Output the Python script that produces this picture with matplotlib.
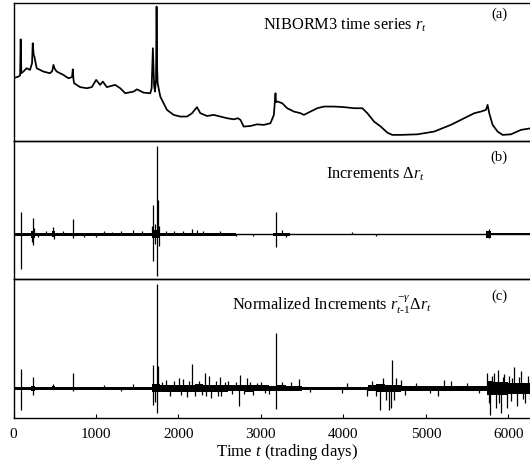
import matplotlib
matplotlib.use('Agg')
import matplotlib.pyplot as plt
import numpy as np

plt.rcParams['font.family'] = ['Liberation Serif', 'DejaVu Serif']
plt.rcParams['mathtext.fontset'] = 'custom'
plt.rcParams['mathtext.rm'] = 'Liberation Serif'
plt.rcParams['mathtext.it'] = 'Liberation Serif:italic'
plt.rcParams['mathtext.fallback'] = 'stix'

# ---------------- data ----------------
# (a) NIBORM3 rate r_t (approximate percent)
rate_t = [0, 60, 80, 87, 95, 119, 160, 200, 225, 233, 245, 253, 281, 362, 443, 470, 484, 500,
          524, 605, 666, 710, 719, 728, 735, 808, 889, 950, 1002, 1051, 1083, 1132, 1233, 1294,
          1355, 1457, 1497, 1578, 1659, 1675, 1690, 1705, 1715, 1728, 1735, 1742, 1748, 1780,
          1820, 1861, 1942, 2023, 2104, 2165, 2225, 2266, 2347, 2428, 2509, 2590, 2671, 2720,
          2752, 2792, 2873, 2954, 3035, 3116, 3157, 3177, 3183, 3205, 3258, 3319, 3400, 3481,
          3521, 3602, 3683, 3764, 3886, 4007, 4129, 4230, 4291, 4372, 4453, 4534, 4594, 4696,
          4898, 5101, 5303, 5465, 5587, 5668, 5729, 5749, 5769, 5810, 5870, 5931, 6032, 6153, 6276]
rate_v = [12.3, 12.6, 12.8, 19.3, 13.2, 13.5, 14.1, 13.8, 15.0, 18.6, 16.5, 16.2, 14.1, 13.5,
          13.2, 13.6, 14.7, 14.0, 13.5, 12.9, 12.3, 12.5, 13.9, 12.0, 11.4, 10.7, 10.5, 10.7,
          12.0, 11.1, 11.7, 10.7, 11.1, 10.5, 9.6, 9.9, 10.3, 9.7, 9.6, 10.5, 17.7, 11.0, 9.9,
          12.0, 25.2, 14.0, 11.4, 9.0, 7.8, 6.6, 5.7, 5.4, 5.4, 6.0, 7.1, 6.0, 5.5, 5.7, 5.4,
          5.1, 4.9, 5.1, 4.8, 3.6, 3.7, 4.0, 3.9, 4.2, 5.7, 9.6, 8.0, 8.1, 7.8, 6.9, 6.3, 6.0,
          5.7, 6.3, 6.9, 7.2, 7.2, 7.1, 6.9, 6.9, 6.0, 4.5, 3.6, 2.5, 2.1, 2.1, 2.2, 2.7, 3.9,
          5.1, 6.0, 6.3, 6.6, 7.5, 6.0, 3.9, 2.7, 2.1, 2.2, 3.0, 3.3]

# (b) increments: background noise half-width per interval, and isolated spikes
inc_band_t = [0, 215, 265, 470, 500, 1680, 1780, 2700, 3150, 3350, 5730, 5790, 6276]
inc_band_a = [0.15, 0.35, 0.15, 0.3, 0.15, 0.4, 0.12, 0.08, 0.15, 0.08, 0.35, 0.1, 0.1]
inc_spike_t = [87, 87, 225, 233, 240, 250, 484, 490, 727, 727, 300, 400, 600, 850, 1000, 1100,
               1200, 1300, 1450, 1560, 1680, 1690, 1695, 1710, 1720, 1735, 1740, 1748, 1760,
               1770, 1850, 1950, 2050, 2165, 2230, 2300, 2509, 2700, 2900, 3185, 3185, 3250,
               3300, 4100, 4400, 5760, 5765]
inc_spike_v = [2.2, -3.5, -0.8, 1.6, -1.1, 0.6, 0.7, -0.5, 1.5, -0.4, -0.3, 0.3, 0.3, -0.3, -0.3,
               0.3, 0.25, 0.3, 0.4, 0.3, 0.8, 2.9, -2.7, 1.0, -1.0, 8.8, -4.2, 3.4, -1.2, 0.8,
               0.3, 0.3, 0.3, 0.5, 0.4, 0.3, 0.3, -0.2, -0.2, 2.2, -1.3, 0.4, -0.3, 0.2, -0.2,
               0.5, -0.4]

# (c) normalized increments
norm_band_t = [0, 215, 265, 470, 500, 1680, 1780, 2200, 2300, 2600, 2800, 2900, 3100, 3200,
               3300, 3500, 4300, 4400, 4500, 4700, 5740, 5800, 6000, 6276]
norm_band_a = [0.03, 0.05, 0.03, 0.04, 0.03, 0.08, 0.07, 0.08, 0.07, 0.06, 0.07, 0.06, 0.05,
               0.06, 0.05, 0.03, 0.06, 0.08, 0.07, 0.05, 0.14, 0.13, 0.11, 0.11]
norm_spike_t = [87, 87, 233, 238, 484, 727, 727, 1100, 1300, 1450, 1690, 1695, 1720, 1735, 1742,
                1748, 1800, 1850, 1900, 1950, 2002, 2030, 2060, 2100, 2130, 2170, 2200, 2250,
                2280, 2318, 2340, 2367, 2400, 2450, 2480, 2509, 2515, 2560, 2600, 2650, 2700,
                2740, 2752, 2800, 2833, 2870, 2900, 2950, 3000, 3050, 3100, 3185, 3185, 3250,
                3360, 3460, 3600, 3980, 4047, 4290, 4350, 4400, 4445, 4480, 4520, 4555, 4575,
                4587, 4620, 4640, 4700, 4750, 4880, 5050, 5150, 5222, 5300, 5500, 5650, 5740,
                5760, 5781, 5800, 5829, 5850, 5870, 5890, 5911, 5930, 5950, 5980, 6004, 6030,
                6050, 6072, 6100, 6130, 6153, 6180, 6200, 6234, 6260]
norm_spike_v = [0.38, -0.44, 0.22, -0.14, 0.08, 0.30, -0.06, 0.06, -0.06, 0.08, 0.46, -0.34,
                -0.28, 2.06, -0.50, 0.44, 0.12, 0.16, -0.16, 0.14, 0.20, -0.14, 0.18, -0.18,
                0.14, 0.48, -0.16, 0.14, -0.14, 0.30, -0.16, 0.24, -0.20, 0.14, -0.16, 0.22,
                -0.16, 0.12, 0.14, -0.12, 0.12, -0.36, 0.26, -0.12, 0.20, 0.12, -0.14, 0.10,
                0.12, -0.10, -0.12, 1.10, -0.42, 0.12, 0.12, 0.18, -0.08, -0.10, 0.10, -0.16,
                0.14, -0.16, -0.44, 0.20, -0.24, -0.44, -0.40, 0.56, -0.24, 0.20, 0.16, -0.14,
                0.10, -0.10, -0.16, 0.16, 0.14, 0.10, -0.10, 0.30, -0.30, -0.54, 0.24, 0.30,
                -0.40, 0.36, -0.30, -0.50, 0.22, 0.28, -0.40, 0.24, -0.26, 0.20, 0.42, -0.36,
                0.22, 0.34, -0.22, -0.30, 0.24, -0.24]

x_ticks = [0, 1000, 2000, 3000, 4000, 5000, 6000]
x_max = 6276

# ---------------- figure ----------------
W, H = 530, 470
fig = plt.figure(figsize=(W / 100, H / 100), dpi=100)

def fx(px):
    return px / W

def fy(py):
    return 1 - py / H

left = fx(13.5)
width = 1 - left + 0.002
ax_a = fig.add_axes([left, fy(141), width, fy(3) - fy(141)])
ax_b = fig.add_axes([left, fy(279), width, fy(141) - fy(279)])
ax_c = fig.add_axes([left, fy(418), width, fy(279) - fy(418)])

ax_a.plot(rate_t, rate_v, color='black', lw=1.25)
ax_a.set_ylim(1.0, 25.84)

def draw_increments(ax, bt, ba, st, sv):
    ba = np.asarray(ba)
    ax.fill_between(bt, -ba, ba, step='post', color='black', lw=0)
    ax.plot([0, x_max], [0, 0], color='black', lw=1.0)
    ax.vlines(st, 0, sv, color='black', lw=0.9)

draw_increments(ax_b, inc_band_t, inc_band_a, inc_spike_t, inc_spike_v)
ax_b.set_ylim(-4.47, 9.33)
draw_increments(ax_c, norm_band_t, norm_band_a, norm_spike_t, norm_spike_v)
ax_c.set_ylim(-0.594, 2.166)

for ax in (ax_a, ax_b, ax_c):
    ax.set_xlim(0, x_max)
    ax.set_yticks([])
    ax.spines['right'].set_visible(False)
    for s in ('left', 'top', 'bottom'):
        ax.spines[s].set_linewidth(1.0)
    ax.set_facecolor('none')

for ax in (ax_a, ax_b):
    ax.set_xticks([])

ax_c.set_xticks(x_ticks)
ax_c.set_xticklabels([str(v) for v in x_ticks])
ax_c.tick_params(axis='x', direction='in', length=3, width=0.8, labelsize=11, pad=7)

fig.text(fx(287), fy(452), 'Time $t$ (trading days)', ha='center', va='center', fontsize=12)

fig.text(fx(427), fy(25), 'NIBORM3 time series $r_t$', ha='right', va='center', fontsize=11.8)
fig.text(fx(499), fy(14), '(a)', ha='center', va='center', fontsize=10.5)
fig.text(fx(425), fy(174), r'Increments $\Delta r_t$', ha='right', va='center', fontsize=11.8)
fig.text(fx(499), fy(157), '(b)', ha='center', va='center', fontsize=10.5)
fig.text(fx(432), fy(305), r'Normalized Increments $r_{t\text{-}1}^{-\gamma}\Delta r_t$',
         ha='right', va='center', fontsize=11.8)
fig.text(fx(499), fy(296), '(c)', ha='center', va='center', fontsize=10.5)

fig.savefig('out.png', dpi=100)
